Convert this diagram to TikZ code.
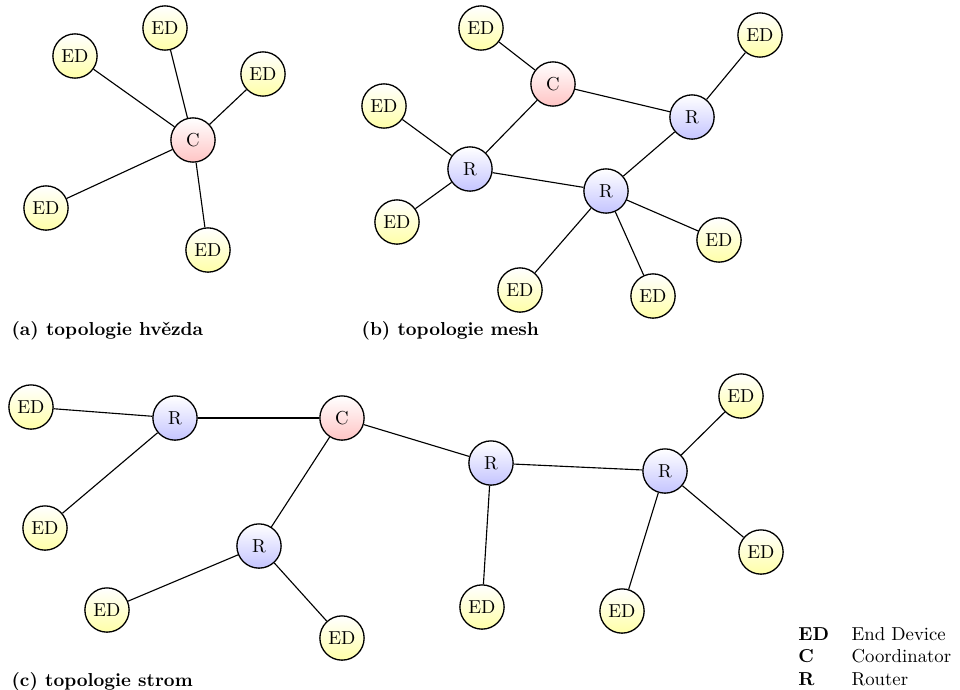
\documentclass[tikz,border=0pt]{standalone}
\usetikzlibrary{positioning}
\definecolor{edyellow}{HTML}{FFFFA8}
\definecolor{cored}{HTML}{FFC4C4}
\definecolor{roblue}{HTML}{C4C4FF}

\begin{document}
\begin{tikzpicture}[x=0.01875cm, y=-0.01875cm,
  dev/.style={circle, draw, line width=0.7pt, minimum size=0.83cm, inner sep=0pt, top color=white},
  ed/.style={dev, bottom color=edyellow},
  co/.style={dev, bottom color=cored},
  ro/.style={dev, bottom color=roblue},
  link/.style={line width=0.6pt},
  subcap/.style={anchor=base west, font=\bfseries}]

\useasboundingbox (0,0) rectangle (960,689);

% (a) star
\node[co] (sC) at (193,140) {C};
\node[ed] (sE1) at (75,56) {ED};
\node[ed] (sE2) at (165,28) {ED};
\node[ed] (sE3) at (263,74) {ED};
\node[ed] (sE4) at (46,208) {ED};
\node[ed] (sE5) at (208,250) {ED};
\foreach \e in {sE1,sE2,sE3,sE4,sE5}
  \draw[link] (sC) -- (\e);
\node[subcap] (capA) at (5,335) {(a) topologie hvězda};

% (b) mesh
\node[co] (mC) at (553,84) {C};
\node[ro] (mR1) at (692,117) {R};
\node[ro] (mR2) at (470,169) {R};
\node[ro] (mR3) at (606,191) {R};
\node[ed] (mE1) at (481,28) {ED};
\node[ed] (mE2) at (760,35) {ED};
\node[ed] (mE3) at (384,106) {ED};
\node[ed] (mE4) at (397,222) {ED};
\node[ed] (mE5) at (719,240) {ED};
\node[ed] (mE6) at (520,290) {ED};
\node[ed] (mE7) at (653,296) {ED};
\foreach \a/\b in {mE1/mC, mC/mR1, mC/mR2, mE2/mR1, mE3/mR2, mE4/mR2,
                   mR2/mR3, mR1/mR3, mR3/mE5, mR3/mE6, mR3/mE7}
  \draw[link] (\a) -- (\b);
\node[subcap] (capB) at (355,335) {(b) topologie mesh};

% (c) tree
\node[co] (tC) at (342,418) {C};
\node[ro] (tR1) at (175,418) {R};
\node[ro] (tR2) at (259,546) {R};
\node[ro] (tR3) at (491,463) {R};
\node[ro] (tR4) at (665,471) {R};
\node[ed] (tE1) at (31,407) {ED};
\node[ed] (tE2) at (45,528) {ED};
\node[ed] (tE3) at (107,610) {ED};
\node[ed] (tE4) at (342,638) {ED};
\node[ed] (tE5) at (482,607) {ED};
\node[ed] (tE6) at (622,611) {ED};
\node[ed] (tE7) at (741,396) {ED};
\node[ed] (tE8) at (761,552) {ED};
\foreach \a/\b in {tE1/tR1, tR1/tC, tR1/tE2, tC/tR3, tC/tR2, tR3/tR4,
                   tR3/tE5, tR4/tE7, tR4/tE8, tR4/tE6, tR2/tE3, tR2/tE4}
  \draw[link] (\a) -- (\b);
\node[subcap] (capC) at (5,686) {(c) topologie strom};

% legend
\node[anchor=north west, inner sep=0pt] (legend) at (798,624) {%
  \begin{tabular}{@{}ll@{}}
    \textbf{ED} & End Device\\
    \textbf{C} & Coordinator\\
    \textbf{R} & Router
  \end{tabular}};

\end{tikzpicture}
\end{document}
